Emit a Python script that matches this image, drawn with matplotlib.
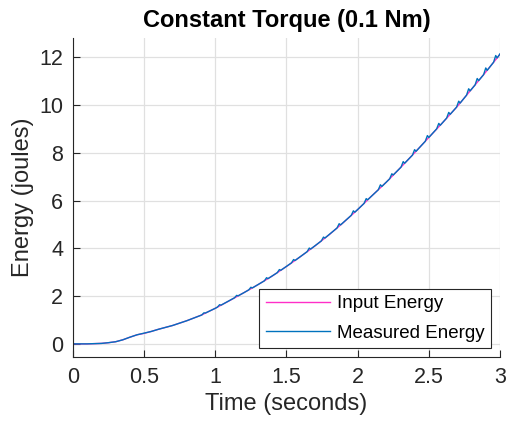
import matplotlib
matplotlib.use('Agg')
import matplotlib.pyplot as plt

# input energy (smooth curve)
t_in = [0.0, 0.1, 0.2, 0.25, 0.3, 0.35, 0.4, 0.45, 0.5, 0.55, 0.6, 0.7, 0.8, 0.9, 1.0,
        1.1, 1.2, 1.3, 1.4, 1.5, 1.6, 1.7, 1.8, 1.9, 2.0,
        2.1, 2.2, 2.3, 2.4, 2.5, 2.6, 2.7, 2.8, 2.9, 3.0]
e_in = [0.0, 0.0, 0.02, 0.05, 0.09, 0.17, 0.28, 0.38, 0.44, 0.52, 0.61, 0.77, 0.97, 1.20, 1.49,
        1.81, 2.14, 2.48, 2.84, 3.24, 3.66, 4.10, 4.57, 5.08, 5.62,
        6.20, 6.76, 7.37, 8.00, 8.64, 9.28, 9.94, 10.66, 11.38, 12.12]

# measured energy (same trend with small ripple spikes)
t_meas = [0.0, 0.1, 0.2, 0.25, 0.3, 0.35, 0.4, 0.45, 0.5, 0.55, 0.6, 0.7, 0.8,
          0.905, 0.92, 0.93, 1.0,
          1.015, 1.03, 1.04, 1.135, 1.15, 1.16, 1.2,
          1.235, 1.25, 1.26, 1.345, 1.36, 1.37,
          1.435, 1.45, 1.46, 1.535, 1.55, 1.56,
          1.645, 1.66, 1.67, 1.745, 1.76, 1.77,
          1.855, 1.87, 1.88, 1.955, 1.97, 1.98,
          2.045, 2.06, 2.07, 2.145, 2.16, 2.17,
          2.225, 2.24, 2.25, 2.305, 2.32, 2.33,
          2.385, 2.40, 2.41, 2.475, 2.49, 2.50,
          2.555, 2.57, 2.58, 2.625, 2.64, 2.65,
          2.695, 2.71, 2.72, 2.765, 2.78, 2.79,
          2.825, 2.84, 2.85, 2.885, 2.90, 2.91,
          2.955, 2.97, 2.98, 3.0]
e_meas = [0.0, 0.0, 0.02, 0.05, 0.09, 0.17, 0.28, 0.38, 0.45, 0.52, 0.61, 0.77, 0.97,
          1.21, 1.30, 1.29, 1.49,
          1.54, 1.64, 1.62, 1.93, 2.03, 2.01, 2.14,
          2.26, 2.37, 2.34, 2.64, 2.77, 2.73,
          2.98, 3.11, 3.08, 3.39, 3.53, 3.49,
          3.86, 4.01, 3.97, 4.31, 4.47, 4.43,
          4.85, 5.03, 4.98, 5.38, 5.57, 5.51,
          5.88, 6.08, 6.03, 6.45, 6.66, 6.59,
          6.91, 7.12, 7.07, 7.40, 7.63, 7.56,
          7.90, 8.13, 8.06, 8.48, 8.72, 8.64,
          9.00, 9.23, 9.15, 9.45, 9.69, 9.61,
          9.91, 10.16, 10.08, 10.41, 10.68, 10.59,
          10.84, 11.11, 11.02, 11.27, 11.55, 11.45,
          11.79, 12.07, 11.97, 12.14]

x_ticks = [0, 0.5, 1, 1.5, 2, 2.5, 3]
x_ticklabels = ['0', '0.5', '1', '1.5', '2', '2.5', '3']
y_ticks = [0, 2, 4, 6, 8, 10, 12]

plt.rcParams['font.family'] = ['Liberation Sans', 'DejaVu Sans']
dark = '#262626'

fig = plt.figure(figsize=(5.09, 4.33), dpi=100)
ax = fig.add_axes([0.1434, 0.1755, 0.8389, 0.7365])

ax.plot(t_in, e_in, color='#ff2fc8', lw=1.0, label='Input Energy')
ax.plot(t_meas, e_meas, color='#0072bd', lw=1.0, label='Measured Energy')

ax.set_xlim(0, 3)
ax.set_ylim(-0.55, 12.8)
ax.set_xticks(x_ticks)
ax.set_xticklabels(x_ticklabels)
ax.set_yticks(y_ticks)

ax.grid(True, color='#e0e0e0', lw=0.9)
ax.set_axisbelow(True)
for s in ['top', 'right']:
    ax.spines[s].set_visible(False)
for s in ['left', 'bottom']:
    ax.spines[s].set_color(dark)
    ax.spines[s].set_linewidth(0.8)
ax.tick_params(direction='in', length=5, width=0.8, colors=dark,
               labelsize=15.5, pad=7)

ax.set_xlabel('Time (seconds)', fontsize=17, color=dark, labelpad=4)
ax.set_ylabel('Energy (joules)', fontsize=17, color=dark, labelpad=4)
ax.set_title('Constant Torque (0.1 Nm)', fontsize=17, fontweight='bold',
             pad=8)

leg = ax.legend(loc='lower right', fontsize=13.5, fancybox=False,
                framealpha=1, edgecolor=dark, borderpad=0.35,
                handlelength=3.4, handletextpad=0.4, labelspacing=0.65,
                borderaxespad=0, bbox_to_anchor=(0.98, 0.028))
leg.get_frame().set_linewidth(0.8)

fig.savefig('out.png', dpi=100)
